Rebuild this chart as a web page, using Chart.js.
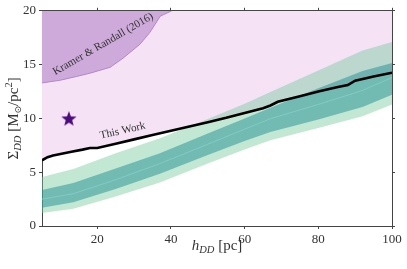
<!DOCTYPE html>
<html><head><meta charset="utf-8">
<script src="https://cdn.jsdelivr.net/npm/chart.js@4/dist/chart.umd.min.js"></script>
<style>html,body{margin:0;padding:0;background:#fff}</style>
</head><body>
<canvas id="c" width="407" height="269"></canvas>
<script>
// ---- data ----
const xTicks = [20, 40, 60, 80, 100];
const yTicks = [0, 5, 10, 15, 20];

const bandX      = [5, 13.5, 25, 37, 50, 60, 67, 80, 92, 100];
const greenTop   = [4.56, 5.3, 6.75, 8.15, 9.95, 11.36, 12.45, 14.45, 16.3, 17.1];
const tealTop    = [3.35, 4.0, 5.35, 6.75, 8.6, 10.0, 11.0, 12.8, 14.4, 15.15];
const median     = [2.5, 3.0, 4.3, 5.8, 7.6, 9.0, 9.97, 11.3, 12.6, 13.8];
const tealBottom = [1.7, 2.2, 3.45, 4.85, 6.6, 7.9, 8.73, 9.9, 11.05, 12.2];
const greenBottom= [1.2, 1.6, 2.75, 4.05, 5.8, 7.1, 7.96, 9.1, 10.2, 11.3];

const workX = [5, 6.5, 8, 10, 13, 16, 18, 20, 25, 30, 35, 40, 45, 50, 55, 60, 65, 67, 69, 75, 80, 85, 88, 90, 95, 100];
const workY = [6.1, 6.4, 6.55, 6.7, 6.9, 7.1, 7.25, 7.25, 7.65, 8.05, 8.45, 8.85, 9.25, 9.65, 10.05, 10.5, 10.95, 11.2, 11.55, 12.05, 12.5, 12.9, 13.1, 13.5, 13.9, 14.25];

const kramerX = [5, 10, 14.4, 18, 23.5, 27, 31.6, 34.3, 37.1, 40.2];
const kramerY = [13.3, 13.55, 13.9, 14.2, 14.75, 15.6, 16.9, 18.0, 19.5, 20];

const starX = [12.3];
const starY = [10];

const labels = {
  kramer: {text: 'Kramer & Randall (2016)', x: 21.6, y: 16.9, angle: -30},
  work: {text: 'This Work', x: 26.9, y: 8.85, angle: -13}
};

// ---- helpers ----
const pts = (xs, ys) => xs.map((x, i) => ({x, y: ys[i]}));
const SERIF = '"Liberation Serif", "DejaVu Serif", serif';

function makeStar(size, color) {
  const c = document.createElement('canvas');
  c.width = size; c.height = size;
  const g = c.getContext('2d');
  const cx = size / 2, cy = size / 2 + 0.8, R = size / 2, r = R * 0.42;
  g.beginPath();
  for (let i = 0; i < 10; i++) {
    const rad = i % 2 === 0 ? R : r;
    const a = -Math.PI / 2 + i * Math.PI / 5;
    const px = cx + rad * Math.cos(a), py = cy + rad * Math.sin(a);
    i === 0 ? g.moveTo(px, py) : g.lineTo(px, py);
  }
  g.closePath();
  g.fillStyle = color;
  g.fill();
  return c;
}

function drawRich(ctx, parts, x, y) {
  let w = 0;
  parts.forEach(p => { ctx.font = p.f; p.w = ctx.measureText(p.t).width; w += p.w; });
  let cx = x - w / 2;
  parts.forEach(p => {
    ctx.font = p.f;
    ctx.fillText(p.t, cx, y + (p.dy || 0));
    cx += p.w;
  });
}

const textPlugin = {
  id: 'texts',
  afterDatasetsDraw(chart) {
    const ctx = chart.ctx;
    const xs = chart.scales.x, ys = chart.scales.y;
    ctx.save();
    ctx.fillStyle = '#333';
    ctx.textAlign = 'center';
    ctx.textBaseline = 'middle';
    ctx.font = '11px ' + SERIF;
    Object.values(labels).forEach(l => {
      ctx.save();
      ctx.translate(xs.getPixelForValue(l.x), ys.getPixelForValue(l.y));
      ctx.rotate(l.angle * Math.PI / 180);
      ctx.fillText(l.text, 0, 0);
      ctx.restore();
    });
    ctx.restore();
  },
  afterDraw(chart) {
    const ctx = chart.ctx, a = chart.chartArea;
    ctx.save();
    ctx.fillStyle = '#333';
    ctx.textAlign = 'left';
    ctx.textBaseline = 'alphabetic';
    const big = '15px ' + SERIF, bigI = 'italic 15px ' + SERIF, subI = 'italic 10.5px ' + SERIF, sub = '10.5px ' + SERIF;
    drawRich(ctx, [
      {t: 'h', f: bigI}, {t: 'DD', f: subI, dy: 3}, {t: ' [pc]', f: big}
    ], (a.left + a.right) / 2, a.bottom + 24);
    ctx.translate(a.left - 24, (a.top + a.bottom) / 2);
    ctx.rotate(-Math.PI / 2);
    drawRich(ctx, [
      {t: 'Σ', f: big}, {t: 'DD', f: subI, dy: 3}, {t: ' [M', f: big},
      {t: '⊙', f: '9px "DejaVu Sans"', dy: 3}, {t: '/pc', f: big},
      {t: '2', f: sub, dy: -6}, {t: ']', f: big}
    ], 0, 0);
    ctx.restore();
  }
};

const axisColor = '#444';
const tickFont = {family: SERIF, size: 13};
function mkAxis(pos, min, max, tickVals, size, showLabels) {
  const horiz = pos === 'top' || pos === 'bottom';
  return {
    type: 'linear', position: pos, min, max,
    afterBuildTicks: s => { s.ticks = tickVals.map(v => ({value: v})); },
    afterFit: s => { if (horiz) s.height = size; else s.width = size; },
    ticks: {display: showLabels, font: tickFont, color: '#333', padding: 3, maxRotation: 0, autoSkip: false},
    grid: {drawOnChartArea: false, drawTicks: true, tickLength: 3, color: axisColor, lineWidth: 1},
    border: {display: true, color: axisColor, width: 1}
  };
}

new Chart(document.getElementById('c'), {
  type: 'line',
  data: {
    datasets: [
      {data: pts(workX, workY), borderColor: '#000', borderWidth: 2.6, pointRadius: 0, fill: false, order: 1},
      {data: pts(bandX, median), borderColor: 'rgba(135,205,200,0.95)', borderWidth: 0.9, pointRadius: 0, fill: false, order: 2},
      {data: pts(bandX, tealTop), borderWidth: 0, pointRadius: 0, fill: 3, backgroundColor: 'rgba(40,145,150,0.52)', order: 3},
      {data: pts(bandX, tealBottom), borderWidth: 0, pointRadius: 0, fill: false, order: 3},
      {data: pts(bandX, greenTop), borderWidth: 0, pointRadius: 0, fill: 5, backgroundColor: 'rgba(120,205,160,0.45)', order: 4},
      {data: pts(bandX, greenBottom), borderWidth: 0, pointRadius: 0, fill: false, order: 4},
      {data: pts(kramerX, kramerY), borderColor: 'rgba(175,135,205,1)', borderWidth: 1, pointRadius: 0, fill: 'end', backgroundColor: 'rgb(206,170,218)', order: 5},
      {data: pts(workX, workY), borderWidth: 0, pointRadius: 0, fill: 'end', backgroundColor: 'rgb(245,226,245)', order: 6},
      {type: 'scatter', data: pts(starX, starY), pointStyle: makeStar(16, '#4b0c80'), pointRadius: 8, order: 0}
    ]
  },
  options: {
    responsive: false,
    animation: false,
    devicePixelRatio: 1,
    layout: {padding: 0},
    plugins: {legend: {display: false}, tooltip: {enabled: false}},
    scales: {
      x: mkAxis('bottom', 5, 100, xTicks, 43, true),
      x2: mkAxis('top', 5, 100, xTicks, 10, false),
      y: mkAxis('left', 0, 20, yTicks, 42, true),
      y2: mkAxis('right', 0, 20, yTicks, 15, false)
    }
  },
  plugins: [textPlugin]
});
</script>
</body></html>
